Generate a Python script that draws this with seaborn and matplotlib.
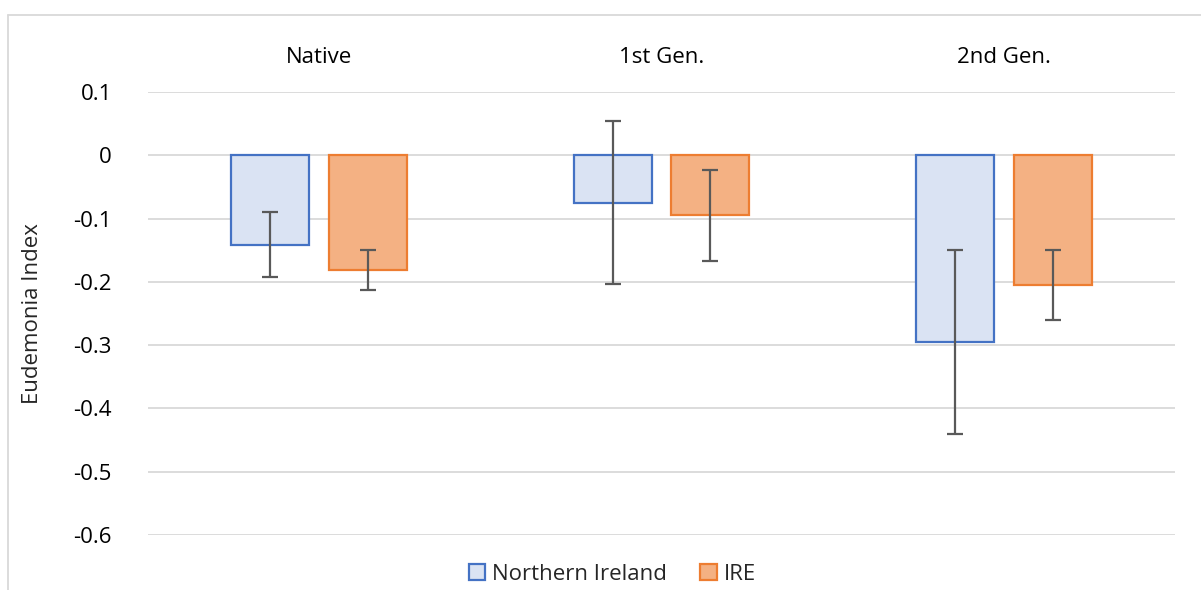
import matplotlib
matplotlib.use("Agg")
import matplotlib.pyplot as plt
import matplotlib.patches as mpatches
import seaborn as sns
import pandas as pd
import numpy as np

categories = ["Native", "1st Gen.", "2nd Gen."]
series = ["Northern Ireland", "IRE"]
ni_values = [-0.141, -0.075, -0.295]
ire_values = [-0.181, -0.095, -0.205]
ni_err = [0.051, 0.129, 0.146]
ire_err = [0.032, 0.072, 0.056]
yticks = [0.1, 0, -0.1, -0.2, -0.3, -0.4, -0.5, -0.6]

fills = {"Northern Ireland": "#DAE3F3", "IRE": "#F4B183"}
edges = {"Northern Ireland": "#4472C4", "IRE": "#ED7D31"}

df = pd.DataFrame({
    "cat": categories * 2,
    "series": [series[0]] * 3 + [series[1]] * 3,
    "value": ni_values + ire_values,
    "err": ni_err + ire_err,
})

sns.set_style("white")
plt.rcParams["font.family"] = ["Open Sans", "DejaVu Sans"]
FS = 16

fig = plt.figure(figsize=(12.01, 5.9), dpi=100)
ax = fig.add_axes([148 / 1201, 55 / 590, (1175 - 148) / 1201, (535 - 92) / 590])

sns.barplot(data=df, x="cat", y="value", hue="series", order=categories,
            hue_order=series, palette=fills, saturation=1, width=0.572, gap=0.203,
            errorbar=None, legend=False, ax=ax, zorder=3)

# style bars and add error bars
containers = ax.containers
for s, cont in zip(series, containers):
    sub = df[df["series"] == s].set_index("cat").loc[categories]
    xs = []
    for p in cont.patches:
        p.set_facecolor(fills[s])
        p.set_edgecolor(edges[s])
        p.set_linewidth(1.6)
        xs.append(p.get_x() + p.get_width() / 2)
    ax.errorbar(xs, sub["value"].values, yerr=sub["err"].values, fmt="none",
                ecolor="#595959", elinewidth=1.6, capsize=6, capthick=1.6,
                zorder=4)

ax.set_xlim(-0.5, 2.5)
ax.set_ylim(-0.6, 0.1)
ax.set_yticks(yticks)
ax.set_yticklabels([("%g" % v) for v in yticks], fontsize=FS, color="#000000")
ax.yaxis.grid(True, color="#D9D9D9", linewidth=1.3, zorder=0)
ax.set_axisbelow(True)
ax.tick_params(axis="y", length=0, pad=26)
ax.xaxis.tick_top()
ax.tick_params(axis="x", length=0, pad=17, labelsize=FS, labelcolor="#000000")
ax.set_xlabel("")
ax.set_ylabel("Eudemonia Index", fontsize=FS, labelpad=22)
for sp in ax.spines.values():
    sp.set_visible(False)

handles = [mpatches.Patch(facecolor=fills[s], edgecolor=edges[s], linewidth=1.6, label=s)
           for s in series]
fig.legend(handles=handles, loc="center", bbox_to_anchor=(612 / 1201, 1 - 574 / 590),
           ncol=2, frameon=False, fontsize=FS, handlelength=0.75, handleheight=0.75,
           handletextpad=0.3, columnspacing=1.5)

# outer chart border (light gray)
fig.add_artist(plt.Line2D([7.5 / 1201, 7.5 / 1201], [0, 1 - 14.5 / 590],
                          transform=fig.transFigure, color="#D9D9D9", linewidth=1.3))
fig.add_artist(plt.Line2D([7.5 / 1201, 1], [1 - 14.5 / 590, 1 - 14.5 / 590],
                          transform=fig.transFigure, color="#D9D9D9", linewidth=1.3))

fig.savefig("out.png", dpi=100, facecolor="white")
